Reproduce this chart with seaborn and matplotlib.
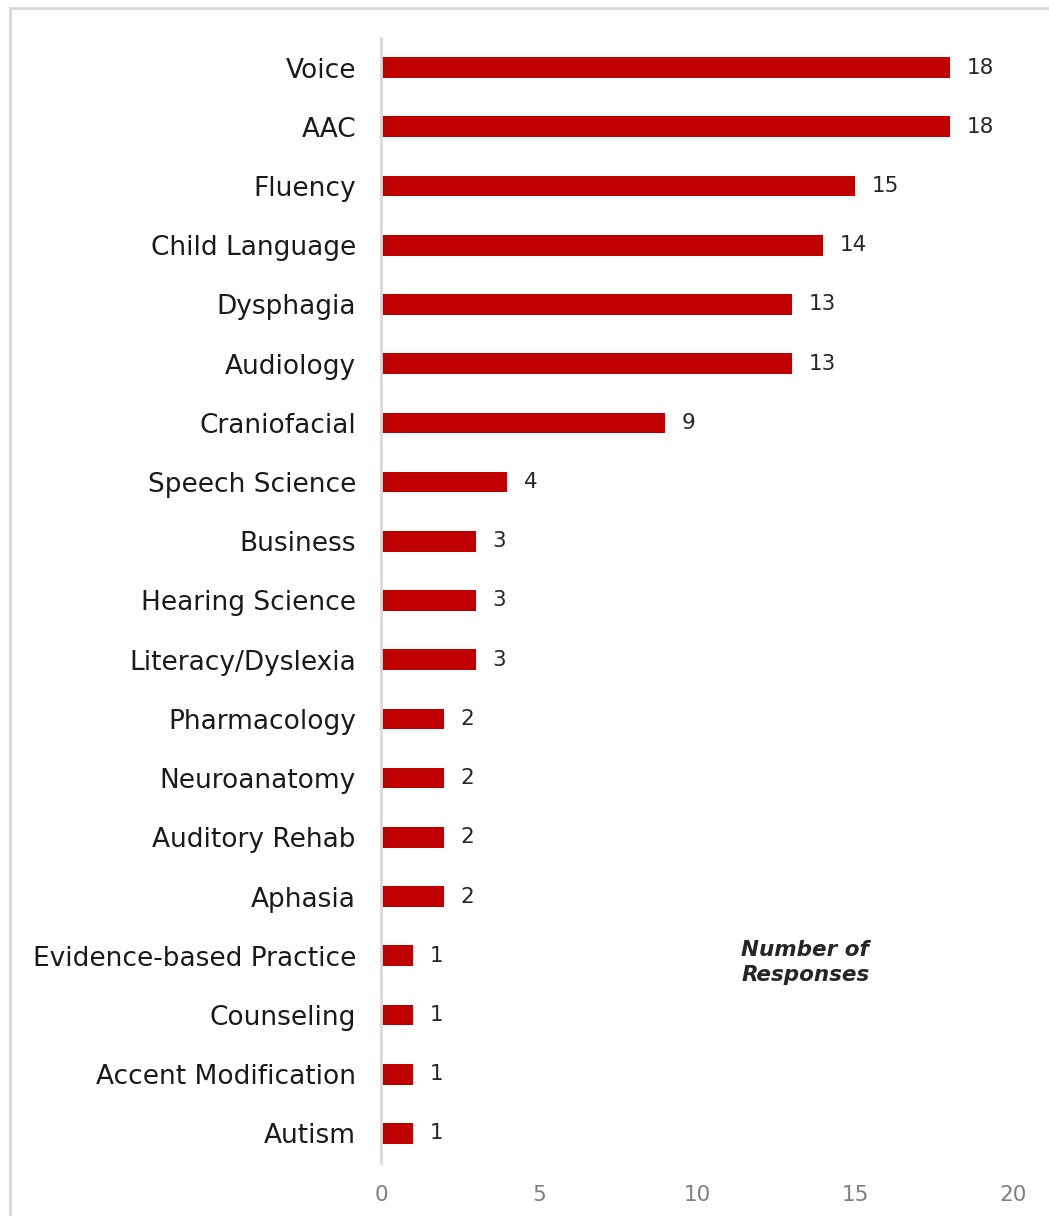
import numpy as np
import pandas as pd
import matplotlib
matplotlib.use("Agg")
import matplotlib.pyplot as plt
import seaborn as sns
from matplotlib.patches import Rectangle

# dades del grafic
areas = ["Voice", "AAC", "Fluency", "Child Language", "Dysphagia", "Audiology",
         "Craniofacial", "Speech Science", "Business", "Hearing Science",
         "Literacy/Dyslexia", "Pharmacology", "Neuroanatomy", "Auditory Rehab",
         "Aphasia", "Evidence-based Practice", "Counseling", "Accent Modification",
         "Autism"]
respostes = [18, 18, 15, 14, 13, 13, 9, 4, 3, 3, 3, 2, 2, 2, 2, 1, 1, 1, 1]
ticks_x = [0, 5, 10, 15, 20]

df = pd.DataFrame({"area": areas, "n": respostes})

sns.set_style("white")
plt.rcParams["font.family"] = ["DejaVu Sans"]

fig = plt.figure(figsize=(10.49, 12.16), dpi=100)
ax = fig.add_axes([381/1049, 1-1163/1216, (1013-381)/1049, (1163-38)/1216])

sns.barplot(data=df, x="n", y="area", color="#C00000", width=0.35,
            saturation=1, ax=ax, orient="h", linewidth=0)

ax.bar_label(ax.containers[0], padding=12, fontsize=15.5, color="#262626")

ax.set_xlim(0, 20)
ax.set_ylim(18.5, -0.5)
ax.set_xticks(ticks_x)
ax.tick_params(axis="x", labelsize=15.5, labelcolor="#7F7F7F", length=0, pad=16)
ax.tick_params(axis="y", labelsize=19, labelcolor="#1a1a1a", length=0, pad=18)
ax.set_xlabel("")
ax.set_ylabel("")

for s in ["top", "right", "bottom"]:
    ax.spines[s].set_visible(False)
ax.spines["left"].set_color("#D9D9D9")
ax.spines["left"].set_linewidth(2)

ax.text(11.4, 15.12, "Number of\nResponses", fontsize=15.5, fontweight="bold",
        fontstyle="italic", ha="left", va="center", linespacing=1.3)

# vora del grafic
fig.patches.append(Rectangle((10/1049, -0.05), 1.1, 1-8/1216+0.05,
                             transform=fig.transFigure, fill=False,
                             edgecolor="#D9D9D9", linewidth=2))

fig.savefig("out.png", dpi=100)
